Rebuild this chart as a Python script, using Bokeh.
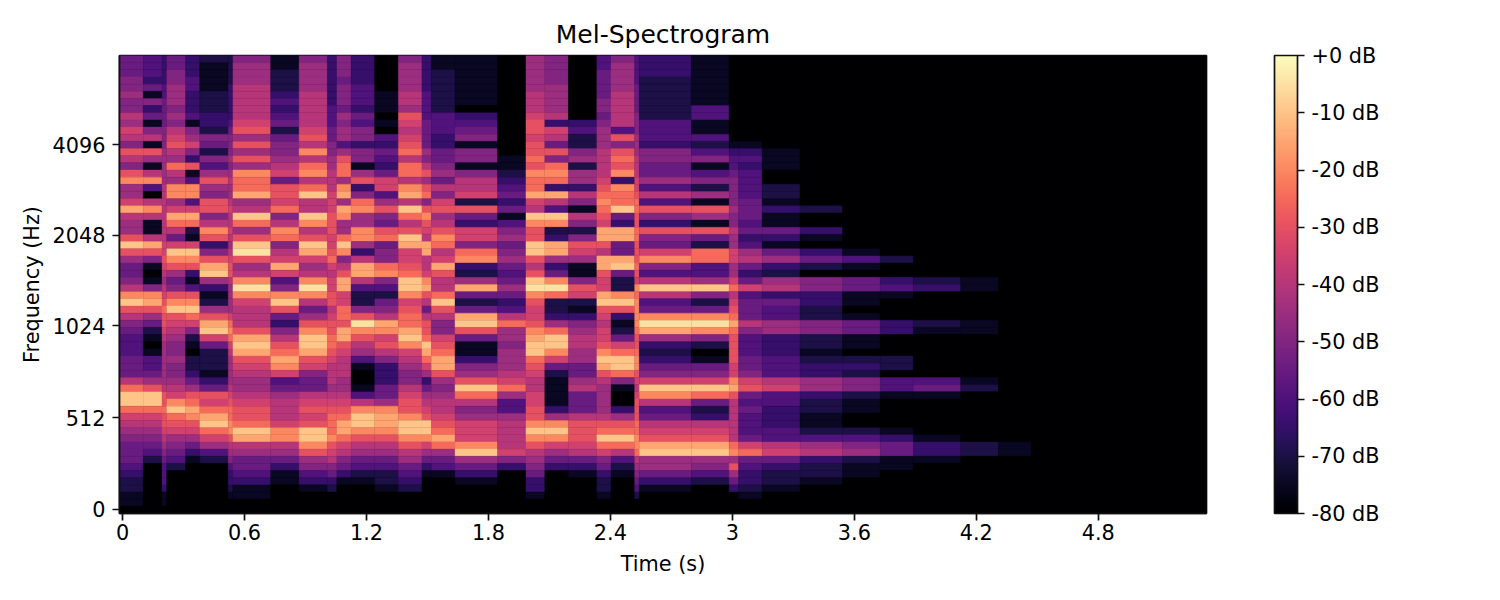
from bokeh.plotting import figure
from bokeh.models import (AllLabels, ColorBar, ColumnDataSource, FixedTicker, LinearColorMapper, Range1d)
from bokeh.palettes import Magma256
from bokeh.embed import file_html
from bokeh.resources import INLINE

# Levels per band, top band first: 0..9,a..g stands for -80 dB .. 0 dB in 5 dB steps.
LEVEL_CODES = "0123456789abcdefg"
ZERO = "00000000 " * 8

segment_frames = [5, 4, 1, 4, 3, 6, 1, 8, 6, 6, 2, 3, 5, 5, 5, 2, 5, 9, 6, 4, 5, 6,
                  3, 5, 1, 11, 8, 2, 5, 8, 9, 8, 7, 10, 8, 7, 37]

segment_levels = [
    "55566766 87986a86 ac779d87 7aea7556 8cea8654 445558be eb987655 54322110",
    "44435163 51681a71 8c408c81 18da6101 6cda7521 014457ae eb987654 20000000",
    "33334455 55666777 77888888 8899a987 89abaa98 7777778a abaa9876 54443110",
    "55667776 7689a87b 87cc79db 859eca75 6acea987 66766789 ceba9765 42000000",
    "33344333 4167963a 14cc49db 219eca31 4aceb962 1022357a bdca9753 10000000",
    "21111222 33265264 7a76aa68 ca36ade7 3127ade9 5222135a 9bdeb974 20000000",
    "22223333 34566676 78778988 98789aa8 77779bcb 98777789 abbcca87 64332100",
    "67778888 89a7a7a7 cbbd78eb 7aefa78c fc9888ad eda98778 9aabed87 55431100",
    "11222343 45256678 95aa9b68 cb689d94 6cea5368 abdc9457 8889cc87 53110000",
    "67777888 889a8c8b c8be88ec 8aed978c fc857ace eda96558 9a9aeeca 76431000",
    "33333334 44556677 888999aa a99ab989 9aa89aab ba988878 9abbbca9 86532000",
    "66656665 767747ab b7cd7dc7 7bec68ad d99bbadd a9888778 9abddb98 65310000",
    "33334443 54663661 7a36bc77 cc738dd8 4226afca 87410014 8ceeca87 54210000",
    "00000111 01043543 59947a65 ab566bc6 42568dc9 a8633355 7cddca87 54221000",
    "67777887 a989ab8b b8cd8eb8 aed99abe ec9abbde c9876689 aaceeca8 75432000",
    "33333444 45555768 a7ab6aca 98dd889c da858aab edb97357 89aeec97 53100000",
    "11222222 44433556 75869a78 acb89da8 8bea8669 abdda767 889abdb7 54100000",
    "11111110 34561661 68892a53 996bc327 d525dea5 11367aeb 867999ce 75310000",
    "00000000 00000011 23453514 67567545 75348b77 677789b7 44788889 63000000",
    "77777888 9aa9aaba cbbd98ec aaeea8ae fca99acd eeba9889 9aaceca8 76533100",
    "66667777 83985a6b cb3d84ec 23dd735c fb2237be ec952111 137cec97 53000000",
    "00000000 03422672 77386186 26a97116 a9213678 87755785 558aaa98 53100000",
    "44555566 56777888 89abcba9 dda8dda9 9dea9899 aceda877 778abeb9 65322100",
    "67777888 884a6aba c3cbbe53 dd55de52 2cea3125 9beeb610 037abeb8 42100000",
    "44445555 66677788 899abbaa bbaaaba9 cbccccba abcca989 aaabbccb 87654200",
    "33322222 24443665 57484a63 a659c648 e845cfd7 323569ec 84589ade 77531000",
    "11111114 41142461 46271a71 a52bb447 e625cfc6 201569eb 52389ade 76420000",
    "00000000 00001344 56666766 87799779 b89abdba aaa99cda 888888bc 7a753000",
    "00000000 00001343 44445554 53478535 94555864 445569a5 4544459b 54332100",
    "00000000 00000111 00221311 53157327 83544773 33444894 43334489 53221000",
    "00000000 00000000 00000200 31035206 63322662 21233773 22112478 32210000",
    "00000000 00000000 00000000 00014105 51101551 10232662 11002467 21100000",
    "00000000 00000000 00000000 00002003 41000330 00220441 00001355 11000000",
    "00000000 00000000 00000000 00000002 30000210 00000451 00000133 10000000",
    "00000000 00000000 00000000 00000001 10000110 00000120 00000022 00000000",
    "00000000 00000000 00000000 00000000 00000000 00000000 00000011 00000000",
    ZERO,
]

x_ticks = [0, 0.6, 1.2, 1.8, 2.4, 3.0, 3.6, 4.2, 4.8]
x_tick_labels = ["0", "0.6", "1.2", "1.8", "2.4", "3", "3.6", "4.2", "4.8"]
y_tick_bands = [0.56, 13.41, 26.27, 38.85, 51.56]   # position on the 64-band mel axis
y_tick_labels = ["0", "512", "1024", "2048", "4096"]
cb_ticks = [0, -10, -20, -30, -40, -50, -60, -70, -80]
cb_tick_labels = ["+0 dB", "-10 dB", "-20 dB", "-30 dB", "-40 dB", "-50 dB", "-60 dB", "-70 dB", "-80 dB"]

FRAME_S = 5.347 / 230
T0 = -0.0148
N_BANDS = 64

left, right, bottom, top, db = [], [], [], [], []
frame = 0
for n, col in zip(segment_frames, segment_levels):
    levels = col.replace(" ", "")
    assert len(levels) == N_BANDS, col
    for i, ch in enumerate(levels):
        left.append(T0 + frame * FRAME_S)
        right.append(T0 + (frame + n) * FRAME_S)
        top.append(N_BANDS - i)
        bottom.append(N_BANDS - i - 1)
        db.append(LEVEL_CODES.index(ch) * 5 - 80)
    frame += n

source = ColumnDataSource(dict(left=left, right=right, bottom=bottom, top=top, db=db))
mapper = LinearColorMapper(palette=Magma256, low=-80, high=0)

FONT = "DejaVu Sans"
p = figure(width=1492, height=592, output_backend="svg", toolbar_location=None,
           x_range=Range1d(T0, T0 + 230 * FRAME_S), y_range=Range1d(0, N_BANDS),
           min_border_left=119, min_border_right=286, min_border_top=55, min_border_bottom=79,
           title="Mel-Spectrogram", x_axis_label="Time (s)", y_axis_label="Frequency (Hz)")
p.sizing_mode = "fixed"
p.grid.visible = False
p.background_fill_color = "#000004"
p.border_fill_color = "white"
p.outline_line_color = "#111111"
p.outline_line_width = 1.7

p.quad(left="left", right="right", bottom="bottom", top="top", source=source,
       fill_color={"field": "db", "transform": mapper},
       line_color={"field": "db", "transform": mapper}, line_width=0.4)

p.title.align = "center"
p.title.text_font = FONT
p.title.text_font_size = "25px"
p.title.text_font_style = "normal"
p.title.text_color = "black"
p.title.standoff = 13

for ax in (p.xaxis[0], p.yaxis[0]):
    ax.axis_label_text_font = FONT
    ax.axis_label_text_font_size = "20.8px"
    ax.axis_label_text_font_style = "normal"
    ax.axis_label_text_color = "black"
    ax.major_label_text_font = FONT
    ax.major_label_text_font_size = "20.8px"
    ax.major_label_text_color = "black"
    ax.major_tick_in = 0
    ax.major_tick_out = 7
    ax.major_tick_line_width = 1.7
    ax.major_tick_line_color = "#111111"
    ax.minor_tick_line_color = None
    ax.axis_line_width = 1.7
    ax.axis_line_color = "#111111"
    ax.major_label_standoff = 7

p.xaxis[0].ticker = FixedTicker(ticks=x_ticks)
p.xaxis[0].major_label_overrides = dict(zip(x_ticks, x_tick_labels))
p.xaxis[0].major_label_standoff = 3
p.yaxis[0].ticker = FixedTicker(ticks=y_tick_bands)
p.yaxis[0].major_label_overrides = dict(zip(y_tick_bands, y_tick_labels))
p.yaxis[0].major_label_orientation = "horizontal"
p.xaxis[0].axis_label_standoff = 9
p.yaxis[0].axis_label_standoff = 6

cb = ColorBar(color_mapper=LinearColorMapper(palette=Magma256, low=-80, high=0),
              ticker=FixedTicker(ticks=cb_ticks),
              major_label_overrides=dict(zip(cb_ticks, cb_tick_labels)),
              major_label_policy=AllLabels(),
              width=23, height=458, location=(68, 0), padding=0, margin=0,
              major_tick_in=0, major_tick_out=7,
              major_tick_line_color="#111111", major_tick_line_width=1.7,
              minor_tick_line_color=None,
              bar_line_color="#111111", bar_line_width=1.7, border_line_color=None,
              background_fill_color=None,
              label_standoff=7,
              major_label_text_font=FONT, major_label_text_font_size="20.8px",
              major_label_text_color="black")
p.add_layout(cb, "right")

open("out.html", "w").write(file_html(p, INLINE))
